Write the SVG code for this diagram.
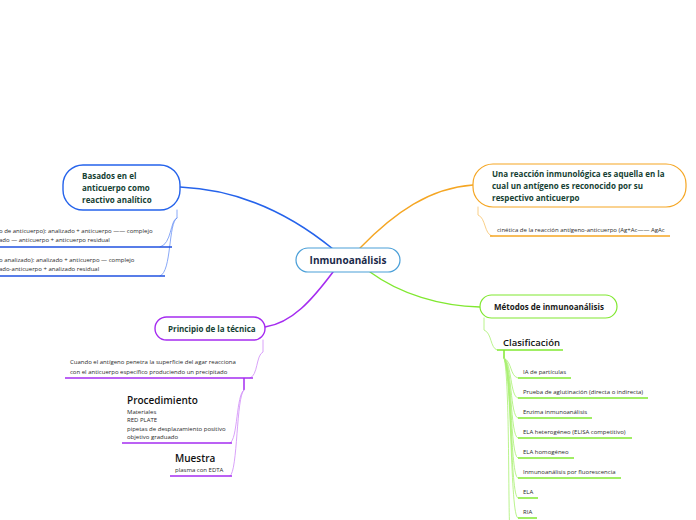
<svg xmlns="http://www.w3.org/2000/svg" width="696" height="520" viewBox="0 0 696 520">
<style>
.nt{font-family:"Open Sans","Noto Sans",sans-serif;font-weight:700;font-size:8px;fill:#153f33}
.sm{font-family:"Open Sans","Noto Sans",sans-serif;font-size:6px;fill:#2a2a2a}
.hd{font-family:"Open Sans","Noto Sans",sans-serif;font-weight:600;font-size:10px;fill:#111}
.c{fill:none;stroke-linecap:round}
</style>
<rect width="696" height="520" fill="#fff"/>
<g id="connectors">
<path class="c" d="M333 249 C300 222 250 190 180 187" stroke="#2563eb" stroke-width="1.6"/>
<path class="c" d="M360 248 C395 212 430 188 473 185" stroke="#f5a623" stroke-width="1.4"/>
<path class="c" d="M370 272 C400 294 440 306 480 307" stroke="#80e830" stroke-width="1.4"/>
<path class="c" d="M333 272 C312 300 292 323 265 327" stroke="#a52cf0" stroke-width="1.6"/>
<path class="c" d="M177 210 V218 C170 220 172 244 160 247" stroke="#6a92f5" stroke-width="0.8"/>
<path class="c" d="M177 218 C168 222 172 272 160 276" stroke="#6a92f5" stroke-width="0.8"/>
<line x1="0" y1="247" x2="172" y2="247" stroke="#2052e0" stroke-width="1.5"/>
<line x1="0" y1="276" x2="165" y2="276" stroke="#2052e0" stroke-width="1.5"/>
<path class="c" d="M478 207 V215 C486 218 484 234 492 236" stroke="#f8c36a" stroke-width="0.8"/>
<line x1="490" y1="236" x2="670" y2="236" stroke="#f5a623" stroke-width="1.5"/>
<path class="c" d="M484 318 V330 C492 333 490 348 497 350" stroke="#a8f070" stroke-width="0.8"/>
<line x1="497" y1="350" x2="563" y2="350" stroke="#80e830" stroke-width="1.5"/>
<line x1="504" y1="350" x2="504" y2="358" stroke="#80e830" stroke-width="1.5"/>
<g stroke="#a8f070" stroke-width="0.8" fill="none">
<path d="M504 358 C512 362 510 376 518 378"/>
<path d="M504 358 C512 364 510 396 518 398"/>
<path d="M504 358 C512 366 510 416 518 418"/>
<path d="M504 358 C512 368 510 436 518 438"/>
<path d="M504 358 C512 370 510 456 518 458"/>
<path d="M504 358 C512 372 510 476 518 478"/>
<path d="M504 358 C512 374 510 496 518 498"/>
<path d="M504 358 C512 376 510 516 518 518"/>
<path d="M504 358 C510 380 508 520 510 530"/>
</g>
<g stroke="#80e830" stroke-width="1.5">
<line x1="518" y1="378" x2="571" y2="378"/>
<line x1="518" y1="398" x2="648" y2="398"/>
<line x1="518" y1="418" x2="592" y2="418"/>
<line x1="518" y1="438" x2="632" y2="438"/>
<line x1="518" y1="458" x2="574" y2="458"/>
<line x1="518" y1="478" x2="621" y2="478"/>
<line x1="518" y1="498" x2="538" y2="498"/>
<line x1="518" y1="518" x2="537" y2="518"/>
</g>
<path class="c" d="M263 340 V352 C256 355 258 376 250 378" stroke="#cf8af8" stroke-width="0.8"/>
<line x1="65" y1="378" x2="253" y2="378" stroke="#a52cf0" stroke-width="1.5"/>
<line x1="244" y1="378" x2="244" y2="390" stroke="#a52cf0" stroke-width="1.5"/>
<path class="c" d="M244 390 C236 394 238 440 230 443" stroke="#cf8af8" stroke-width="0.8"/>
<path class="c" d="M244 390 C236 396 238 472 230 476" stroke="#cf8af8" stroke-width="0.8"/>
<line x1="122" y1="443" x2="232" y2="443" stroke="#a52cf0" stroke-width="1.5"/>
<line x1="170" y1="476" x2="232" y2="476" stroke="#a52cf0" stroke-width="1.5"/>
</g>
<g id="central">
<rect x="296" y="248" width="104" height="24" rx="12" fill="#fff" stroke="#4a9fd8" stroke-width="1.2"/>
<text x="348" y="264" text-anchor="middle" font-family="Open Sans, Noto Sans, sans-serif" font-weight="700" font-size="10px" fill="#1a2a4a">Inmunoanálisis</text>
</g>
<g id="basados">
<rect x="63" y="165" width="117" height="45" rx="20" fill="#fff" stroke="#2563eb" stroke-width="1.4"/>
<text class="nt" x="82" y="179">Basados en el</text>
<text class="nt" x="82" y="191">anticuerpo como</text>
<text class="nt" x="82" y="203">reactivo analítico</text>
</g>
<g id="basados-1">
<text class="sm" x="-1" y="233">o de anticuerpo): analizado + anticuerpo —— complejo</text>
<text class="sm" x="-1" y="242">ado — anticuerpo + anticuerpo residual</text>
</g>
<g id="basados-2">
<text class="sm" x="-1" y="262">o analizado): analizado + anticuerpo — complejo</text>
<text class="sm" x="-1" y="271">ado-anticuerpo + analizado residual</text>
</g>
<g id="reaccion">
<rect x="473" y="164" width="213" height="43" rx="20" fill="#fff" stroke="#f5a623" stroke-width="1.2"/>
<text class="nt" x="492" y="177">Una reacción inmunológica es aquella en la</text>
<text class="nt" x="492" y="189">cual un antígeno es reconocido por su</text>
<text class="nt" x="492" y="201">respectivo anticuerpo</text>
</g>
<g id="cinetica">
<text class="sm" x="497" y="232">cinética de la reacción antígeno-anticuerpo (Ag+Ac—— AgAc</text>
</g>
<g id="metodos">
<rect x="480" y="295" width="137" height="23" rx="11.5" fill="#fff" stroke="#80e830" stroke-width="1.2"/>
<text class="nt" x="494" y="310" style="fill:#1a1a1a">Métodos de inmunoanálisis</text>
</g>
<g id="clasificacion">
<text class="hd" x="503" y="346" style="font-size:9.5px">Clasificación</text>
</g>
<g id="items">
<text class="sm" x="523" y="374">IA de partículas</text>
<text class="sm" x="523" y="394">Prueba de aglutinación (directa o indirecta)</text>
<text class="sm" x="523" y="414">Enzima inmunoanálisis</text>
<text class="sm" x="523" y="434">ELA heterogéneo (ELISA competitivo)</text>
<text class="sm" x="523" y="454">ELA homogéneo</text>
<text class="sm" x="523" y="474">Inmunoanálisis por fluorescencia</text>
<text class="sm" x="523" y="494">ELA</text>
<text class="sm" x="523" y="514">RIA</text>
</g>
<g id="principio">
<rect x="155" y="317" width="110" height="23" rx="11.5" fill="#fff" stroke="#a52cf0" stroke-width="1.4"/>
<text class="nt" x="168" y="332">Principio de la técnica</text>
</g>
<g id="cuando">
<text class="sm" x="70" y="364">Cuando el antígeno penetra la superficie del agar reacciona</text>
<text class="sm" x="70" y="374">con el anticuerpo específico  produciendo un precipitado</text>
</g>
<g id="procedimiento">
<text class="hd" x="127" y="404">Procedimiento</text>
<text class="sm" x="127" y="414">Materiales</text>
<text class="sm" x="127" y="422">RED PLATE</text>
<text class="sm" x="127" y="431">pipetas de desplazamiento positivo</text>
<text class="sm" x="127" y="439">objetivo graduado</text>
</g>
<g id="muestra">
<text class="hd" x="175" y="462">Muestra</text>
<text class="sm" x="175" y="472">plasma con  EDTA</text>
</g>
</svg>
